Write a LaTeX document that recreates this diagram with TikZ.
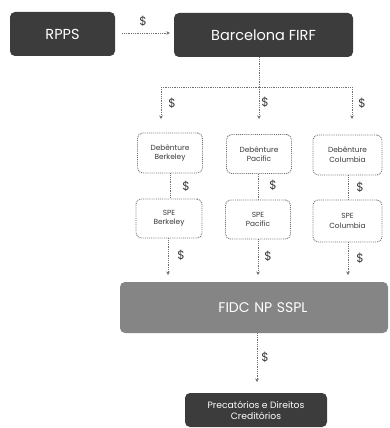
\documentclass[tikz,border=0pt]{standalone}
\usepackage{fontspec}
\setmainfont{Poppins}
\usetikzlibrary{arrows.meta,calc}
\definecolor{darkbox}{HTML}{3C3C3C}
\definecolor{midbox}{HTML}{858585}
\definecolor{linegray}{HTML}{707070}
\definecolor{txtgray}{HTML}{3A3A3A}
\begin{document}
\begin{tikzpicture}[x=1pt,y=-1pt,
  darknode/.style={draw=none,fill=darkbox,rounded corners=5pt,text=white,align=center,inner sep=0pt},
  midnode/.style={draw=none,fill=midbox,rounded corners=5pt,text=white,align=center,inner sep=0pt},
  dotnode/.style={draw=linegray,densely dotted,line width=0.9pt,rounded corners=5pt,fill=white,text=txtgray,align=center,inner sep=0pt,font=\fontsize{7.4}{9.5}\selectfont},
  conn/.style={draw=linegray,densely dotted,line width=0.8pt},
  arr/.style={conn,-{Stealth[length=3.5pt,width=3.5pt]}},
  lbl/.style={text=txtgray,font=\fontsize{12}{12}\selectfont,inner sep=1pt}]
\useasboundingbox (0,0) rectangle (389,428);
% top row
\node[darknode,minimum width=105pt,minimum height=44pt,font=\fontsize{14.5}{15}\selectfont] (rpps) at (62.5,34) {RPPS};
\node[darknode,minimum width=179pt,minimum height=44pt,font=\fontsize{14.5}{15}\selectfont] (firf) at (263.5,35) {Barcelona FIRF};
\coordinate (a1) at ($(rpps.east)+(7,-1)$);
\coordinate (a2) at ($(firf.west)+(-4,-2)$);
\draw[arr] (a1) -- (a2);
\node[lbl] at (143,21) {\$};
% debentures
\node[dotnode,minimum width=65pt,minimum height=40pt] (db) at (170,153) {Debênture\\Berkeley};
\node[dotnode,minimum width=65pt,minimum height=39pt] (dp) at (259,154) {Debênture\\Pacific};
\node[dotnode,minimum width=69pt,minimum height=40pt] (dc) at (347.5,155) {Debênture\\Columbia};
% SPEs
\node[dotnode,minimum width=66pt,minimum height=39pt] (sb) at (169,218.5) {SPE\\Berkeley};
\node[dotnode,minimum width=65pt,minimum height=39pt] (sp) at (258,219.5) {SPE\\Pacific};
\node[dotnode,minimum width=69pt,minimum height=42pt] (sc) at (347.5,221) {SPE\\Columbia};
% FIDC
\node[midnode,minimum width=268pt,minimum height=51pt,font=\fontsize{14}{15}\selectfont,text width=268pt] (fidc) at (254,307.5) {\hspace*{18pt}FIDC NP SSPL};
% Precatorios
\node[darknode,minimum width=142pt,minimum height=34pt,font=\fontsize{9.2}{11}\selectfont] (prec) at (256,410) {Precatórios e Direitos\\Creditórios};
% split
\coordinate (sp0) at (259,87);
\coordinate (spl) at (161,87);
\coordinate (spr) at (352,87);
\coordinate (el) at (161,119);
\coordinate (em) at (259,119);
\coordinate (er) at (352,119);
\draw[conn] (firf.south -| sp0) -- (sp0);
\draw[conn] (spl) -- (spr);
\draw[arr] (spl) -- (el);
\draw[arr] (sp0) -- (em);
\draw[arr] (spr) -- (er);
\node[lbl] at (172,103) {\$};
\node[lbl] at (265,102) {\$};
\node[lbl] at (362,103) {\$};
% deb -> spe
\coordinate (xb) at (170,0);
\coordinate (xp) at (258,0);
\coordinate (xc) at (348,0);
\draw[conn] (db.south -| xb) -- (sb.north -| xb);
\draw[conn] (dp.south -| xp) -- (sp.north -| xp);
\draw[conn] (dc.south -| xc) -- (sc.north -| xc);
\node[lbl] at (186,186) {\$};
\node[lbl] at (273,185) {\$};
\node[lbl] at (360,187) {\$};
% spe -> fidc
\coordinate (fb) at (168,275);
\coordinate (fp) at (258,275);
\coordinate (fc) at (348,275);
\draw[arr] (sb.south -| fb) -- (fb);
\draw[arr] (sp.south -| fp) -- (fp);
\draw[arr] (sc.south -| fc) -- (fc);
\node[lbl] at (181,255) {\$};
\node[lbl] at (268,256) {\$};
\node[lbl] at (360,258) {\$};
% fidc -> prec
\coordinate (pe) at (257,382);
\draw[arr] (fidc.south -| pe) -- (pe);
\node[lbl] at (265,357) {\$};
\end{tikzpicture}
\end{document}
